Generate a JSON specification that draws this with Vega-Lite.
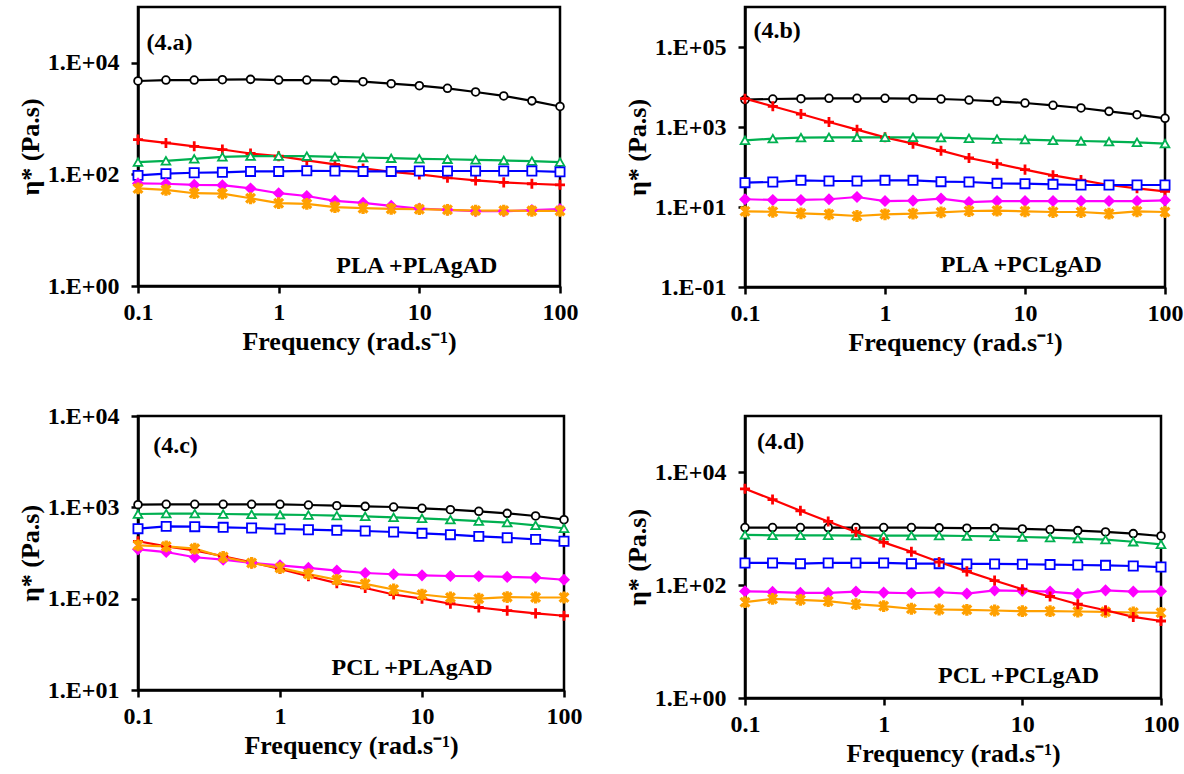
{
"$schema": "https://vega.github.io/schema/vega-lite/v6.json",
"padding": {"left": 16, "top": 5, "right": 5, "bottom": 5},
"config": {
 "font": "Liberation Serif",
 "view": {"stroke": "black", "strokeWidth": 2.5},
 "axis": {"grid": false, "domainColor": "black", "domainWidth": 2.5, "tickColor": "black", "tickWidth": 2.5, "tickSize": 7,
  "labelFont": "Liberation Serif", "labelFontSize": 24, "labelFontWeight": "bold", "labelColor": "black",
  "titleFont": "Liberation Serif", "titleFontSize": 26, "titleFontWeight": "bold", "titleColor": "black",
  "labelFlush": false, "labelOverlap": false},
 "axisX": {"labelPadding": 7, "titlePadding": 4},
 "axisY": {"labelPadding": 12, "titlePadding": 4}
},
"datasets": {"d": [
{"p":"a","s":"k","f":0.1,"v":4720},{"p":"a","s":"k","f":0.158,"v":4910},{"p":"a","s":"k","f":0.251,"v":4910},{"p":"a","s":"k","f":0.398,"v":4980},{"p":"a","s":"k","f":0.631,"v":5050},{"p":"a","s":"k","f":1,"v":4910},{"p":"a","s":"k","f":1.585,"v":4910},{"p":"a","s":"k","f":2.512,"v":4790},{"p":"a","s":"k","f":3.981,"v":4590},{"p":"a","s":"k","f":6.31,"v":4230},{"p":"a","s":"k","f":10,"v":3890},{"p":"a","s":"k","f":15.85,"v":3490},{"p":"a","s":"k","f":25.12,"v":3000},{"p":"a","s":"k","f":39.81,"v":2550},{"p":"a","s":"k","f":63.1,"v":2080},{"p":"a","s":"k","f":100,"v":1650},
{"p":"a","s":"r","f":0.1,"v":420},{"p":"a","s":"r","f":0.158,"v":366},{"p":"a","s":"r","f":0.251,"v":319},{"p":"a","s":"r","f":0.398,"v":279},{"p":"a","s":"r","f":0.631,"v":237},{"p":"a","s":"r","f":1,"v":212},{"p":"a","s":"r","f":1.585,"v":178},{"p":"a","s":"r","f":2.512,"v":151},{"p":"a","s":"r","f":3.981,"v":128},{"p":"a","s":"r","f":6.31,"v":111},{"p":"a","s":"r","f":10,"v":100},{"p":"a","s":"r","f":15.85,"v":87},{"p":"a","s":"r","f":25.12,"v":78},{"p":"a","s":"r","f":39.81,"v":72},{"p":"a","s":"r","f":63.1,"v":68},{"p":"a","s":"r","f":100,"v":65},
{"p":"a","s":"g","f":0.1,"v":166},{"p":"a","s":"g","f":0.158,"v":175},{"p":"a","s":"g","f":0.251,"v":190},{"p":"a","s":"g","f":0.398,"v":206},{"p":"a","s":"g","f":0.631,"v":212},{"p":"a","s":"g","f":1,"v":212},{"p":"a","s":"g","f":1.585,"v":212},{"p":"a","s":"g","f":2.512,"v":206},{"p":"a","s":"g","f":3.981,"v":201},{"p":"a","s":"g","f":6.31,"v":195},{"p":"a","s":"g","f":10,"v":190},{"p":"a","s":"g","f":15.85,"v":187},{"p":"a","s":"g","f":25.12,"v":182},{"p":"a","s":"g","f":39.81,"v":178},{"p":"a","s":"g","f":63.1,"v":173},{"p":"a","s":"g","f":100,"v":166},
{"p":"a","s":"b","f":0.1,"v":96},{"p":"a","s":"b","f":0.158,"v":103},{"p":"a","s":"b","f":0.251,"v":107},{"p":"a","s":"b","f":0.398,"v":109},{"p":"a","s":"b","f":0.631,"v":113},{"p":"a","s":"b","f":1,"v":113},{"p":"a","s":"b","f":1.585,"v":116},{"p":"a","s":"b","f":2.512,"v":115},{"p":"a","s":"b","f":3.981,"v":113},{"p":"a","s":"b","f":6.31,"v":113},{"p":"a","s":"b","f":10,"v":115},{"p":"a","s":"b","f":15.85,"v":115},{"p":"a","s":"b","f":25.12,"v":115},{"p":"a","s":"b","f":39.81,"v":115},{"p":"a","s":"b","f":63.1,"v":115},{"p":"a","s":"b","f":100,"v":111},
{"p":"a","s":"m","f":0.1,"v":69},{"p":"a","s":"m","f":0.158,"v":68},{"p":"a","s":"m","f":0.251,"v":65},{"p":"a","s":"m","f":0.398,"v":64},{"p":"a","s":"m","f":0.631,"v":56},{"p":"a","s":"m","f":1,"v":46},{"p":"a","s":"m","f":1.585,"v":41},{"p":"a","s":"m","f":2.512,"v":33.5},{"p":"a","s":"m","f":3.981,"v":30.9},{"p":"a","s":"m","f":6.31,"v":27.3},{"p":"a","s":"m","f":10,"v":24.5},{"p":"a","s":"m","f":15.85,"v":23.2},{"p":"a","s":"m","f":25.12,"v":21.9},{"p":"a","s":"m","f":39.81,"v":21.9},{"p":"a","s":"m","f":63.1,"v":22.9},{"p":"a","s":"m","f":100,"v":23.8},
{"p":"a","s":"o","f":0.1,"v":56},{"p":"a","s":"o","f":0.158,"v":52.6},{"p":"a","s":"o","f":0.251,"v":46},{"p":"a","s":"o","f":0.398,"v":45.3},{"p":"a","s":"o","f":0.631,"v":37.4},{"p":"a","s":"o","f":1,"v":30.5},{"p":"a","s":"o","f":1.585,"v":29.6},{"p":"a","s":"o","f":2.512,"v":25.9},{"p":"a","s":"o","f":3.981,"v":24.8},{"p":"a","s":"o","f":6.31,"v":24.1},{"p":"a","s":"o","f":10,"v":23.8},{"p":"a","s":"o","f":15.85,"v":23.2},{"p":"a","s":"o","f":25.12,"v":22.5},{"p":"a","s":"o","f":39.81,"v":22.5},{"p":"a","s":"o","f":63.1,"v":22.2},{"p":"a","s":"o","f":100,"v":22.2},
{"p":"b","s":"k","f":0.1,"v":4820},{"p":"b","s":"k","f":0.158,"v":5010},{"p":"b","s":"k","f":0.251,"v":5110},{"p":"b","s":"k","f":0.398,"v":5210},{"p":"b","s":"k","f":0.631,"v":5210},{"p":"b","s":"k","f":1,"v":5210},{"p":"b","s":"k","f":1.585,"v":5110},{"p":"b","s":"k","f":2.512,"v":5010},{"p":"b","s":"k","f":3.981,"v":4730},{"p":"b","s":"k","f":6.31,"v":4380},{"p":"b","s":"k","f":10,"v":3980},{"p":"b","s":"k","f":15.85,"v":3480},{"p":"b","s":"k","f":25.12,"v":2990},{"p":"b","s":"k","f":39.81,"v":2460},{"p":"b","s":"k","f":63.1,"v":2030},{"p":"b","s":"k","f":100,"v":1650},
{"p":"b","s":"r","f":0.1,"v":5110},{"p":"b","s":"r","f":0.158,"v":3290},{"p":"b","s":"r","f":0.251,"v":2110},{"p":"b","s":"r","f":0.398,"v":1330},{"p":"b","s":"r","f":0.631,"v":858},{"p":"b","s":"r","f":1,"v":552},{"p":"b","s":"r","f":1.585,"v":383},{"p":"b","s":"r","f":2.512,"v":256},{"p":"b","s":"r","f":3.981,"v":168},{"p":"b","s":"r","f":6.31,"v":121},{"p":"b","s":"r","f":10,"v":86},{"p":"b","s":"r","f":15.85,"v":62},{"p":"b","s":"r","f":25.12,"v":47},{"p":"b","s":"r","f":39.81,"v":35.5},{"p":"b","s":"r","f":63.1,"v":29.3},{"p":"b","s":"r","f":100,"v":24.6},
{"p":"b","s":"g","f":0.1,"v":464},{"p":"b","s":"g","f":0.158,"v":511},{"p":"b","s":"g","f":0.251,"v":541},{"p":"b","s":"g","f":0.398,"v":552},{"p":"b","s":"g","f":0.631,"v":552},{"p":"b","s":"g","f":1,"v":552},{"p":"b","s":"g","f":1.585,"v":552},{"p":"b","s":"g","f":2.512,"v":541},{"p":"b","s":"g","f":3.981,"v":521},{"p":"b","s":"g","f":6.31,"v":501},{"p":"b","s":"g","f":10,"v":483},{"p":"b","s":"g","f":15.85,"v":464},{"p":"b","s":"g","f":25.12,"v":447},{"p":"b","s":"g","f":39.81,"v":430},{"p":"b","s":"g","f":63.1,"v":414},{"p":"b","s":"g","f":100,"v":383},
{"p":"b","s":"b","f":0.1,"v":40.6},{"p":"b","s":"b","f":0.158,"v":42.2},{"p":"b","s":"b","f":0.251,"v":46.4},{"p":"b","s":"b","f":0.398,"v":44.7},{"p":"b","s":"b","f":0.631,"v":44.7},{"p":"b","s":"b","f":1,"v":46.4},{"p":"b","s":"b","f":1.585,"v":46.4},{"p":"b","s":"b","f":2.512,"v":43},{"p":"b","s":"b","f":3.981,"v":42.2},{"p":"b","s":"b","f":6.31,"v":39.1},{"p":"b","s":"b","f":10,"v":38.3},{"p":"b","s":"b","f":15.85,"v":36.9},{"p":"b","s":"b","f":25.12,"v":35.5},{"p":"b","s":"b","f":39.81,"v":35.5},{"p":"b","s":"b","f":63.1,"v":35.5},{"p":"b","s":"b","f":100,"v":35.5},
{"p":"b","s":"m","f":0.1,"v":15.6},{"p":"b","s":"m","f":0.158,"v":15},{"p":"b","s":"m","f":0.251,"v":15},{"p":"b","s":"m","f":0.398,"v":15.6},{"p":"b","s":"m","f":0.631,"v":17.8},{"p":"b","s":"m","f":1,"v":14.1},{"p":"b","s":"m","f":1.585,"v":14.4},{"p":"b","s":"m","f":2.512,"v":16.2},{"p":"b","s":"m","f":3.981,"v":13.3},{"p":"b","s":"m","f":6.31,"v":14.1},{"p":"b","s":"m","f":10,"v":14.1},{"p":"b","s":"m","f":15.85,"v":14.1},{"p":"b","s":"m","f":25.12,"v":14.1},{"p":"b","s":"m","f":39.81,"v":14.1},{"p":"b","s":"m","f":63.1,"v":14.1},{"p":"b","s":"m","f":100,"v":14.7},
{"p":"b","s":"o","f":0.1,"v":7.8},{"p":"b","s":"o","f":0.158,"v":7.6},{"p":"b","s":"o","f":0.251,"v":6.95},{"p":"b","s":"o","f":0.398,"v":6.56},{"p":"b","s":"o","f":0.631,"v":5.96},{"p":"b","s":"o","f":1,"v":6.56},{"p":"b","s":"o","f":1.585,"v":6.8},{"p":"b","s":"o","f":2.512,"v":7.36},{"p":"b","s":"o","f":3.981,"v":7.94},{"p":"b","s":"o","f":6.31,"v":8.1},{"p":"b","s":"o","f":10,"v":7.8},{"p":"b","s":"o","f":15.85,"v":7.5},{"p":"b","s":"o","f":25.12,"v":7.5},{"p":"b","s":"o","f":39.81,"v":6.8},{"p":"b","s":"o","f":63.1,"v":7.8},{"p":"b","s":"o","f":100,"v":7.5},
{"p":"c","s":"k","f":0.1,"v":1070},{"p":"c","s":"k","f":0.158,"v":1080},{"p":"c","s":"k","f":0.251,"v":1080},{"p":"c","s":"k","f":0.398,"v":1080},{"p":"c","s":"k","f":0.631,"v":1080},{"p":"c","s":"k","f":1,"v":1080},{"p":"c","s":"k","f":1.585,"v":1060},{"p":"c","s":"k","f":2.512,"v":1043},{"p":"c","s":"k","f":3.981,"v":1025},{"p":"c","s":"k","f":6.31,"v":1008},{"p":"c","s":"k","f":10,"v":975},{"p":"c","s":"k","f":15.85,"v":942},{"p":"c","s":"k","f":25.12,"v":904},{"p":"c","s":"k","f":39.81,"v":859},{"p":"c","s":"k","f":63.1,"v":804},{"p":"c","s":"k","f":100,"v":733},
{"p":"c","s":"g","f":0.1,"v":845},{"p":"c","s":"g","f":0.158,"v":853},{"p":"c","s":"g","f":0.251,"v":853},{"p":"c","s":"g","f":0.398,"v":845},{"p":"c","s":"g","f":0.631,"v":838},{"p":"c","s":"g","f":1,"v":831},{"p":"c","s":"g","f":1.585,"v":824},{"p":"c","s":"g","f":2.512,"v":811},{"p":"c","s":"g","f":3.981,"v":797},{"p":"c","s":"g","f":6.31,"v":777},{"p":"c","s":"g","f":10,"v":758},{"p":"c","s":"g","f":15.85,"v":733},{"p":"c","s":"g","f":25.12,"v":708},{"p":"c","s":"g","f":39.81,"v":679},{"p":"c","s":"g","f":63.1,"v":635},{"p":"c","s":"g","f":100,"v":589},
{"p":"c","s":"b","f":0.1,"v":584},{"p":"c","s":"b","f":0.158,"v":619},{"p":"c","s":"b","f":0.251,"v":614},{"p":"c","s":"b","f":0.398,"v":604},{"p":"c","s":"b","f":0.631,"v":594},{"p":"c","s":"b","f":1,"v":579},{"p":"c","s":"b","f":1.585,"v":569},{"p":"c","s":"b","f":2.512,"v":560},{"p":"c","s":"b","f":3.981,"v":551},{"p":"c","s":"b","f":6.31,"v":537},{"p":"c","s":"b","f":10,"v":519},{"p":"c","s":"b","f":15.85,"v":502},{"p":"c","s":"b","f":25.12,"v":481},{"p":"c","s":"b","f":39.81,"v":465},{"p":"c","s":"b","f":63.1,"v":446},{"p":"c","s":"b","f":100,"v":425},
{"p":"c","s":"r","f":0.1,"v":425},{"p":"c","s":"r","f":0.158,"v":374},{"p":"c","s":"r","f":0.251,"v":338},{"p":"c","s":"r","f":0.398,"v":291},{"p":"c","s":"r","f":0.631,"v":250},{"p":"c","s":"r","f":1,"v":211},{"p":"c","s":"r","f":1.585,"v":176},{"p":"c","s":"r","f":2.512,"v":148},{"p":"c","s":"r","f":3.981,"v":131},{"p":"c","s":"r","f":6.31,"v":111},{"p":"c","s":"r","f":10,"v":100},{"p":"c","s":"r","f":15.85,"v":88},{"p":"c","s":"r","f":25.12,"v":80},{"p":"c","s":"r","f":39.81,"v":74},{"p":"c","s":"r","f":63.1,"v":69},{"p":"c","s":"r","f":100,"v":65},
{"p":"c","s":"m","f":0.1,"v":347},{"p":"c","s":"m","f":0.158,"v":324},{"p":"c","s":"m","f":0.251,"v":284},{"p":"c","s":"m","f":0.398,"v":267},{"p":"c","s":"m","f":0.631,"v":246},{"p":"c","s":"m","f":1,"v":232},{"p":"c","s":"m","f":1.585,"v":217},{"p":"c","s":"m","f":2.512,"v":203},{"p":"c","s":"m","f":3.981,"v":191},{"p":"c","s":"m","f":6.31,"v":185},{"p":"c","s":"m","f":10,"v":180},{"p":"c","s":"m","f":15.85,"v":177},{"p":"c","s":"m","f":25.12,"v":176},{"p":"c","s":"m","f":39.81,"v":173},{"p":"c","s":"m","f":63.1,"v":170},{"p":"c","s":"m","f":100,"v":161},
{"p":"c","s":"o","f":0.1,"v":384},{"p":"c","s":"o","f":0.158,"v":374},{"p":"c","s":"o","f":0.251,"v":353},{"p":"c","s":"o","f":0.398,"v":286},{"p":"c","s":"o","f":0.631,"v":246},{"p":"c","s":"o","f":1,"v":217},{"p":"c","s":"o","f":1.585,"v":186},{"p":"c","s":"o","f":2.512,"v":161},{"p":"c","s":"o","f":3.981,"v":145},{"p":"c","s":"o","f":6.31,"v":126},{"p":"c","s":"o","f":10,"v":111},{"p":"c","s":"o","f":15.85,"v":103},{"p":"c","s":"o","f":25.12,"v":100},{"p":"c","s":"o","f":39.81,"v":104},{"p":"c","s":"o","f":63.1,"v":103},{"p":"c","s":"o","f":100,"v":103},
{"p":"d","s":"k","f":0.1,"v":1052},{"p":"d","s":"k","f":0.158,"v":1052},{"p":"d","s":"k","f":0.251,"v":1052},{"p":"d","s":"k","f":0.398,"v":1052},{"p":"d","s":"k","f":0.631,"v":1052},{"p":"d","s":"k","f":1,"v":1052},{"p":"d","s":"k","f":1.585,"v":1052},{"p":"d","s":"k","f":2.512,"v":1038},{"p":"d","s":"k","f":3.981,"v":1024},{"p":"d","s":"k","f":6.31,"v":1024},{"p":"d","s":"k","f":10,"v":996},{"p":"d","s":"k","f":15.85,"v":968},{"p":"d","s":"k","f":25.12,"v":929},{"p":"d","s":"k","f":39.81,"v":879},{"p":"d","s":"k","f":63.1,"v":822},{"p":"d","s":"k","f":100,"v":746},
{"p":"d","s":"g","f":0.1,"v":778},{"p":"d","s":"g","f":0.158,"v":767},{"p":"d","s":"g","f":0.251,"v":767},{"p":"d","s":"g","f":0.398,"v":767},{"p":"d","s":"g","f":0.631,"v":756},{"p":"d","s":"g","f":1,"v":756},{"p":"d","s":"g","f":1.585,"v":756},{"p":"d","s":"g","f":2.512,"v":756},{"p":"d","s":"g","f":3.981,"v":746},{"p":"d","s":"g","f":6.31,"v":736},{"p":"d","s":"g","f":10,"v":716},{"p":"d","s":"g","f":15.85,"v":697},{"p":"d","s":"g","f":25.12,"v":668},{"p":"d","s":"g","f":39.81,"v":641},{"p":"d","s":"g","f":63.1,"v":590},{"p":"d","s":"g","f":100,"v":529},
{"p":"d","s":"b","f":0.1,"v":248},{"p":"d","s":"b","f":0.158,"v":248},{"p":"d","s":"b","f":0.251,"v":241},{"p":"d","s":"b","f":0.398,"v":248},{"p":"d","s":"b","f":0.631,"v":248},{"p":"d","s":"b","f":1,"v":248},{"p":"d","s":"b","f":1.585,"v":241},{"p":"d","s":"b","f":2.512,"v":241},{"p":"d","s":"b","f":3.981,"v":238},{"p":"d","s":"b","f":6.31,"v":238},{"p":"d","s":"b","f":10,"v":235},{"p":"d","s":"b","f":15.85,"v":232},{"p":"d","s":"b","f":25.12,"v":228},{"p":"d","s":"b","f":39.81,"v":225},{"p":"d","s":"b","f":63.1,"v":219},{"p":"d","s":"b","f":100,"v":210},
{"p":"d","s":"m","f":0.1,"v":78},{"p":"d","s":"m","f":0.158,"v":76},{"p":"d","s":"m","f":0.251,"v":73},{"p":"d","s":"m","f":0.398,"v":73},{"p":"d","s":"m","f":0.631,"v":77},{"p":"d","s":"m","f":1,"v":74},{"p":"d","s":"m","f":1.585,"v":72},{"p":"d","s":"m","f":2.512,"v":75},{"p":"d","s":"m","f":3.981,"v":71},{"p":"d","s":"m","f":6.31,"v":81},{"p":"d","s":"m","f":10,"v":79},{"p":"d","s":"m","f":15.85,"v":77},{"p":"d","s":"m","f":25.12,"v":70},{"p":"d","s":"m","f":39.81,"v":81},{"p":"d","s":"m","f":63.1,"v":77},{"p":"d","s":"m","f":100,"v":78},
{"p":"d","s":"o","f":0.1,"v":50},{"p":"d","s":"o","f":0.158,"v":57},{"p":"d","s":"o","f":0.251,"v":55},{"p":"d","s":"o","f":0.398,"v":52},{"p":"d","s":"o","f":0.631,"v":46},{"p":"d","s":"o","f":1,"v":42.6},{"p":"d","s":"o","f":1.585,"v":38.2},{"p":"d","s":"o","f":2.512,"v":37.1},{"p":"d","s":"o","f":3.981,"v":36.6},{"p":"d","s":"o","f":6.31,"v":35.6},{"p":"d","s":"o","f":10,"v":34.6},{"p":"d","s":"o","f":15.85,"v":34.6},{"p":"d","s":"o","f":25.12,"v":34.2},{"p":"d","s":"o","f":39.81,"v":33.7},{"p":"d","s":"o","f":63.1,"v":32.8},{"p":"d","s":"o","f":100,"v":32.4},
{"p":"d","s":"r","f":0.1,"v":5120},{"p":"d","s":"r","f":0.158,"v":3300},{"p":"d","s":"r","f":0.251,"v":2090},{"p":"d","s":"r","f":0.398,"v":1350},{"p":"d","s":"r","f":0.631,"v":879},{"p":"d","s":"r","f":1,"v":574},{"p":"d","s":"r","f":1.585,"v":391},{"p":"d","s":"r","f":2.512,"v":258},{"p":"d","s":"r","f":3.981,"v":176},{"p":"d","s":"r","f":6.31,"v":121},{"p":"d","s":"r","f":10,"v":85},{"p":"d","s":"r","f":15.85,"v":63},{"p":"d","s":"r","f":25.12,"v":46},{"p":"d","s":"r","f":39.81,"v":36},{"p":"d","s":"r","f":63.1,"v":27.4},{"p":"d","s":"r","f":100,"v":23.2}
]},
"columns": 2,
"spacing": {"row": 45, "column": 39},
"concat": [
{"width": 422, "height": 279, "data": {"name": "d"}, "transform": [{"filter": "datum.p == 'a'"}],
 "layer": [
  {"mark": {"type": "line", "strokeWidth": 2.2}, "encoding": {
    "x": {"field": "f", "type": "quantitative", "scale": {"type": "log", "domain": [0.1, 100]}, "axis": {"values": [0.1, 1, 10, 100], "format": "~g", "title": "Frequency (rad.s⁻¹)"}},
    "y": {"field": "v", "type": "quantitative", "scale": {"type": "log", "domain": [1, 100000]}, "axis": {"values": [1, 100, 10000], "title": "η* (Pa.s)", "labelExpr": "'1.E' + (datum.value < 0.99 ? '-' : '+') + (abs(round(log(datum.value)/LN10)) < 10 ? '0' : '') + abs(round(log(datum.value)/LN10))"}},
    "stroke": {"field": "s", "type": "nominal", "legend": null, "scale": {"domain": ["k","r","g","b","m","o"], "range": ["#000000","#FF0000","#00B050","#0000FF","#FF00FF","#FFA000"]}}}},
  {"mark": {"type": "point", "opacity": 1, "strokeWidth": 1.8}, "encoding": {
    "x": {"field": "f", "type": "quantitative"},
    "y": {"field": "v", "type": "quantitative"},
    "stroke": {"field": "s", "type": "nominal", "legend": null},
    "fill": {"field": "s", "type": "nominal", "legend": null, "scale": {"domain": ["k","r","g","b","m","o"], "range": ["#FFFFFF","#FF0000","#FFFFFF","#FFFFFF","#FF00FF","#FFA000"]}},
    "shape": {"field": "s", "type": "nominal", "legend": null, "scale": {"domain": ["k","r","g","b","m","o"], "range": ["circle","M-1,-0.12H1V0.12H-1Z M-0.12,-1H0.12V1H-0.12Z","triangle-up","square","diamond","M-0.15,-1H0.15V1H-0.15Z M-0.85,-0.64L-0.64,-0.85L0.85,0.64L0.64,0.85Z M0.64,-0.85L0.85,-0.64L-0.64,0.85L-0.85,0.64Z"]}},
    "size": {"field": "s", "type": "nominal", "legend": null, "scale": {"domain": ["k","r","g","b","m","o"], "range": [60, 100, 60, 55, 64, 85]}}}},
  {"data": {"values": [{}]}, "mark": {"type": "text", "align": "left", "baseline": "middle", "font": "Liberation Serif", "fontWeight": "bold", "fontSize": 24, "fill": "black", "text": "(4.a)"}, "encoding": {"x": {"datum": 0.115}, "y": {"datum": 23000}}},
  {"data": {"values": [{}]}, "mark": {"type": "text", "align": "center", "baseline": "middle", "font": "Liberation Serif", "fontWeight": "bold", "fontSize": 24, "fill": "black", "text": "PLA +PLAgAD"}, "encoding": {"x": {"datum": 9.6}, "y": {"datum": 2.3}}}
 ]},
{"width": 420, "height": 280, "data": {"name": "d"}, "transform": [{"filter": "datum.p == 'b'"}],
 "layer": [
  {"mark": {"type": "line", "strokeWidth": 2.2}, "encoding": {
    "x": {"field": "f", "type": "quantitative", "scale": {"type": "log", "domain": [0.1, 100]}, "axis": {"values": [0.1, 1, 10, 100], "format": "~g", "title": "Frequency (rad.s⁻¹)"}},
    "y": {"field": "v", "type": "quantitative", "scale": {"type": "log", "domain": [0.1, 1000000]}, "axis": {"values": [0.1, 10, 1000, 100000], "title": "η* (Pa.s)", "labelExpr": "'1.E' + (datum.value < 0.99 ? '-' : '+') + (abs(round(log(datum.value)/LN10)) < 10 ? '0' : '') + abs(round(log(datum.value)/LN10))"}},
    "stroke": {"field": "s", "type": "nominal", "legend": null, "scale": {"domain": ["k","r","g","b","m","o"], "range": ["#000000","#FF0000","#00B050","#0000FF","#FF00FF","#FFA000"]}}}},
  {"mark": {"type": "point", "opacity": 1, "strokeWidth": 1.8}, "encoding": {
    "x": {"field": "f", "type": "quantitative"},
    "y": {"field": "v", "type": "quantitative"},
    "stroke": {"field": "s", "type": "nominal", "legend": null},
    "fill": {"field": "s", "type": "nominal", "legend": null, "scale": {"domain": ["k","r","g","b","m","o"], "range": ["#FFFFFF","#FF0000","#FFFFFF","#FFFFFF","#FF00FF","#FFA000"]}},
    "shape": {"field": "s", "type": "nominal", "legend": null, "scale": {"domain": ["k","r","g","b","m","o"], "range": ["circle","M-1,-0.12H1V0.12H-1Z M-0.12,-1H0.12V1H-0.12Z","triangle-up","square","diamond","M-0.15,-1H0.15V1H-0.15Z M-0.85,-0.64L-0.64,-0.85L0.85,0.64L0.64,0.85Z M0.64,-0.85L0.85,-0.64L-0.64,0.85L-0.85,0.64Z"]}},
    "size": {"field": "s", "type": "nominal", "legend": null, "scale": {"domain": ["k","r","g","b","m","o"], "range": [60, 100, 60, 55, 64, 85]}}}},
  {"data": {"values": [{}]}, "mark": {"type": "text", "align": "left", "baseline": "middle", "font": "Liberation Serif", "fontWeight": "bold", "fontSize": 24, "fill": "black", "text": "(4.b)"}, "encoding": {"x": {"datum": 0.115}, "y": {"datum": 250000}}},
  {"data": {"values": [{}]}, "mark": {"type": "text", "align": "center", "baseline": "middle", "font": "Liberation Serif", "fontWeight": "bold", "fontSize": 24, "fill": "black", "text": "PLA +PCLgAD"}, "encoding": {"x": {"datum": 9.4}, "y": {"datum": 0.36}}}
 ]},
{"width": 426, "height": 274, "data": {"name": "d"}, "transform": [{"filter": "datum.p == 'c'"}],
 "layer": [
  {"mark": {"type": "line", "strokeWidth": 2.2}, "encoding": {
    "x": {"field": "f", "type": "quantitative", "scale": {"type": "log", "domain": [0.1, 100]}, "axis": {"values": [0.1, 1, 10, 100], "format": "~g", "title": "Frequency (rad.s⁻¹)"}},
    "y": {"field": "v", "type": "quantitative", "scale": {"type": "log", "domain": [10, 10000]}, "axis": {"values": [10, 100, 1000, 10000], "title": "η* (Pa.s)", "labelExpr": "'1.E' + (datum.value < 0.99 ? '-' : '+') + (abs(round(log(datum.value)/LN10)) < 10 ? '0' : '') + abs(round(log(datum.value)/LN10))"}},
    "stroke": {"field": "s", "type": "nominal", "legend": null, "scale": {"domain": ["k","r","g","b","m","o"], "range": ["#000000","#FF0000","#00B050","#0000FF","#FF00FF","#FFA000"]}}}},
  {"mark": {"type": "point", "opacity": 1, "strokeWidth": 1.8}, "encoding": {
    "x": {"field": "f", "type": "quantitative"},
    "y": {"field": "v", "type": "quantitative"},
    "stroke": {"field": "s", "type": "nominal", "legend": null},
    "fill": {"field": "s", "type": "nominal", "legend": null, "scale": {"domain": ["k","r","g","b","m","o"], "range": ["#FFFFFF","#FF0000","#FFFFFF","#FFFFFF","#FF00FF","#FFA000"]}},
    "shape": {"field": "s", "type": "nominal", "legend": null, "scale": {"domain": ["k","r","g","b","m","o"], "range": ["circle","M-1,-0.12H1V0.12H-1Z M-0.12,-1H0.12V1H-0.12Z","triangle-up","square","diamond","M-0.15,-1H0.15V1H-0.15Z M-0.85,-0.64L-0.64,-0.85L0.85,0.64L0.64,0.85Z M0.64,-0.85L0.85,-0.64L-0.64,0.85L-0.85,0.64Z"]}},
    "size": {"field": "s", "type": "nominal", "legend": null, "scale": {"domain": ["k","r","g","b","m","o"], "range": [60, 100, 60, 55, 64, 85]}}}},
  {"data": {"values": [{}]}, "mark": {"type": "text", "align": "left", "baseline": "middle", "font": "Liberation Serif", "fontWeight": "bold", "fontSize": 24, "fill": "black", "text": "(4.c)"}, "encoding": {"x": {"datum": 0.128}, "y": {"datum": 4660}}},
  {"data": {"values": [{}]}, "mark": {"type": "text", "align": "center", "baseline": "middle", "font": "Liberation Serif", "fontWeight": "bold", "fontSize": 24, "fill": "black", "text": "PCL +PLAgAD"}, "encoding": {"x": {"datum": 8.5}, "y": {"datum": 17.4}}}
 ]},
{"width": 416, "height": 282, "data": {"name": "d"}, "transform": [{"filter": "datum.p == 'd'"}],
 "layer": [
  {"mark": {"type": "line", "strokeWidth": 2.2}, "encoding": {
    "x": {"field": "f", "type": "quantitative", "scale": {"type": "log", "domain": [0.1, 100]}, "axis": {"values": [0.1, 1, 10, 100], "format": "~g", "title": "Frequency (rad.s⁻¹)"}},
    "y": {"field": "v", "type": "quantitative", "scale": {"type": "log", "domain": [1, 100000]}, "axis": {"values": [1, 100, 10000], "title": "η* (Pa.s)", "labelExpr": "'1.E' + (datum.value < 0.99 ? '-' : '+') + (abs(round(log(datum.value)/LN10)) < 10 ? '0' : '') + abs(round(log(datum.value)/LN10))"}},
    "stroke": {"field": "s", "type": "nominal", "legend": null, "scale": {"domain": ["k","r","g","b","m","o"], "range": ["#000000","#FF0000","#00B050","#0000FF","#FF00FF","#FFA000"]}}}},
  {"mark": {"type": "point", "opacity": 1, "strokeWidth": 1.8}, "encoding": {
    "x": {"field": "f", "type": "quantitative"},
    "y": {"field": "v", "type": "quantitative"},
    "stroke": {"field": "s", "type": "nominal", "legend": null},
    "fill": {"field": "s", "type": "nominal", "legend": null, "scale": {"domain": ["k","r","g","b","m","o"], "range": ["#FFFFFF","#FF0000","#FFFFFF","#FFFFFF","#FF00FF","#FFA000"]}},
    "shape": {"field": "s", "type": "nominal", "legend": null, "scale": {"domain": ["k","r","g","b","m","o"], "range": ["circle","M-1,-0.12H1V0.12H-1Z M-0.12,-1H0.12V1H-0.12Z","triangle-up","square","diamond","M-0.15,-1H0.15V1H-0.15Z M-0.85,-0.64L-0.64,-0.85L0.85,0.64L0.64,0.85Z M0.64,-0.85L0.85,-0.64L-0.64,0.85L-0.85,0.64Z"]}},
    "size": {"field": "s", "type": "nominal", "legend": null, "scale": {"domain": ["k","r","g","b","m","o"], "range": [60, 100, 60, 55, 64, 85]}}}},
  {"data": {"values": [{}]}, "mark": {"type": "text", "align": "left", "baseline": "middle", "font": "Liberation Serif", "fontWeight": "bold", "fontSize": 24, "fill": "black", "text": "(4.d)"}, "encoding": {"x": {"datum": 0.122}, "y": {"datum": 35000}}},
  {"data": {"values": [{}]}, "mark": {"type": "text", "align": "center", "baseline": "middle", "font": "Liberation Serif", "fontWeight": "bold", "fontSize": 24, "fill": "black", "text": "PCL +PCLgAD"}, "encoding": {"x": {"datum": 9.4}, "y": {"datum": 2.5}}}
 ]}
]
}
